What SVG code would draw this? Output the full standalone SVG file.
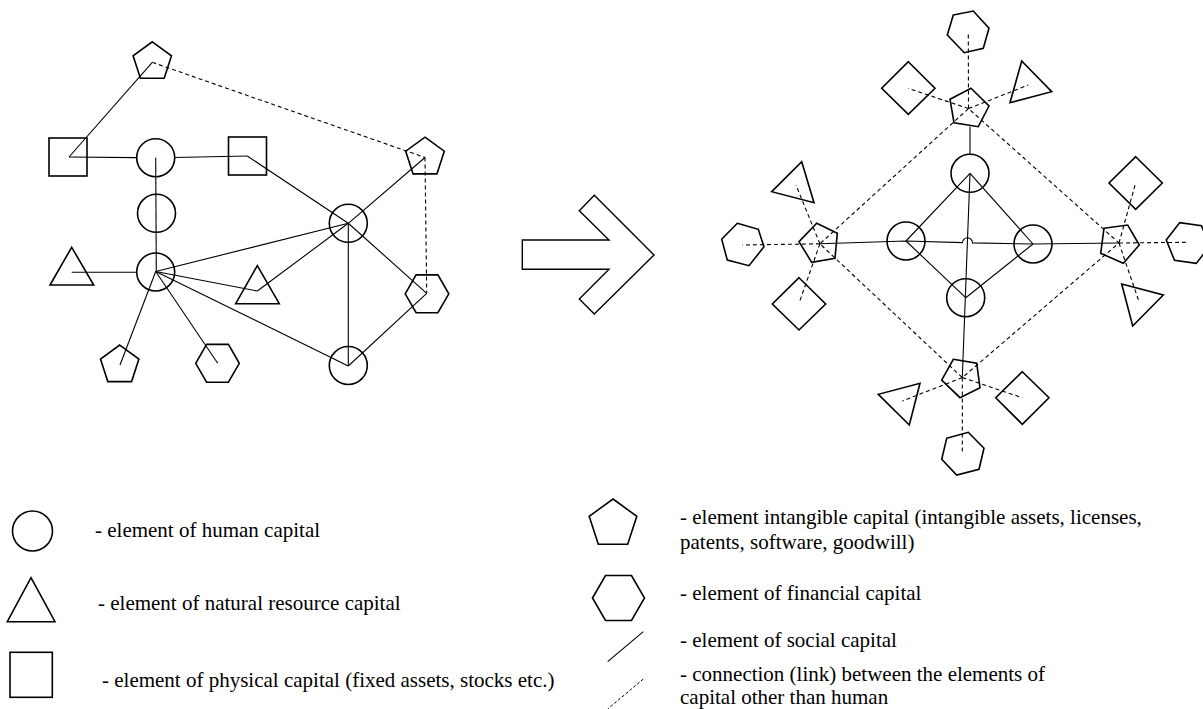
<svg xmlns="http://www.w3.org/2000/svg" width="1203" height="709" viewBox="0 0 1203 709">
<style>
.s{fill:none;stroke:#000;stroke-width:1.6;stroke-linejoin:miter}
.c{fill:none;stroke:#000;stroke-width:1.1}
.d{fill:none;stroke:#000;stroke-width:1.1;stroke-dasharray:4 3}
.dl{fill:none;stroke:#000;stroke-width:1;stroke-dasharray:3 2}
.t{font-family:"Liberation Serif","Times New Roman",serif;font-size:21px;fill:#000}
</style>
<rect width="1203" height="709" fill="#fff"/>

<!-- LEFT GRAPH connectors -->
<g id="left-connectors">
<line class="c" x1="152.3" y1="62.3" x2="69" y2="157"/>
<line class="c" x1="69" y1="157" x2="136.7" y2="157.6"/>
<line class="c" x1="174.7" y1="157.5" x2="247.3" y2="156"/>
<line class="c" x1="155.7" y1="157.7" x2="156.3" y2="271.5"/>
<line class="c" x1="71.7" y1="272.3" x2="136.7" y2="272.2"/>
<line class="c" x1="155.7" y1="271.5" x2="257.3" y2="291"/>
<line class="c" x1="155.7" y1="271.5" x2="348.3" y2="223.3"/>
<line class="c" x1="155.7" y1="271.5" x2="348.3" y2="366"/>
<line class="c" x1="155.7" y1="271.5" x2="120" y2="365"/>
<line class="c" x1="155.7" y1="271.5" x2="217.7" y2="363.3"/>
<polyline class="c" points="247.3,156 348.3,223.3 426.7,293.3"/>
<line class="c" x1="348.3" y1="223.3" x2="257.3" y2="291"/>
<line class="c" x1="348.3" y1="223.3" x2="425" y2="157.5"/>
<line class="c" x1="348.3" y1="223.3" x2="348.3" y2="366"/>
<line class="c" x1="348.3" y1="366" x2="426.7" y2="293.3"/>
<line class="d" x1="152.3" y1="62.3" x2="425" y2="157.5"/>
<line class="d" x1="425" y1="157.5" x2="426.7" y2="293.3"/>
</g>

<!-- LEFT GRAPH nodes -->
<g id="l-pent-top"><polygon class="s" points="152.3,41.8 171.5,55.8 164.2,78.3 140.4,78.3 133.1,55.8"/></g>
<g id="l-square-1"><rect class="s" x="49" y="138" width="38" height="38"/></g>
<g id="l-circle-1"><circle class="s" cx="155.7" cy="157.7" r="19"/></g>
<g id="l-square-2"><rect class="s" x="228.5" y="137" width="38" height="38"/></g>
<g id="l-circle-2"><circle class="s" cx="156.5" cy="213.3" r="19"/></g>
<g id="l-circle-3"><circle class="s" cx="155.7" cy="272" r="19"/></g>
<g id="l-tri-left"><polygon class="s" points="71.7,247.3 93.7,285 50,285"/></g>
<g id="l-tri-mid"><polygon class="s" points="257.3,265.7 279.3,303.7 235.7,303.7"/></g>
<g id="l-circle-big"><circle class="s" cx="348.3" cy="223.3" r="19"/></g>
<g id="l-pent-right"><polygon class="s" points="425,137.2 444.3,151.2 436.9,173.9 413.1,173.9 405.7,151.2"/></g>
<g id="l-hex-right"><polygon class="s" points="405.2,293.8 416.1,274.9 437.9,274.9 448.8,293.8 437.9,312.7 416.1,312.7"/></g>
<g id="l-circle-bottom"><circle class="s" cx="348.3" cy="365.5" r="19"/></g>
<g id="l-pent-bottom"><polygon class="s" points="119.7,345.1 138.9,359.1 131.6,381.6 107.8,381.6 100.5,359.1"/></g>
<g id="l-hex-bottom"><polygon class="s" points="195.7,363.3 206.6,344.4 228.4,344.4 239.3,363.3 228.4,382.2 206.6,382.2"/></g>

<!-- ARROW -->
<g id="arrow"><polygon class="s" style="stroke-width:1.4" points="522.3,240 609,240 579.3,210.7 594.3,195.3 654,255 594.3,314 579.3,299 609,269.3 522.3,269.3"/></g>

<!-- RIGHT GRAPH connectors -->
<g id="right-connectors">
<polygon class="d" points="968.5,108.6 819.9,243.8 962.3,377.6 1119,243"/>
<line class="d" x1="968.5" y1="108.6" x2="968.3" y2="32.3"/>
<line class="d" x1="968.5" y1="108.6" x2="908.3" y2="88.3"/>
<line class="d" x1="968.5" y1="108.6" x2="1028.3" y2="85"/>
<line class="d" x1="819.9" y1="243.8" x2="742.3" y2="245"/>
<line class="d" x1="819.9" y1="243.8" x2="796" y2="185"/>
<line class="d" x1="819.9" y1="243.8" x2="799" y2="303.3"/>
<line class="d" x1="1119" y1="243" x2="1187.3" y2="242.3"/>
<line class="d" x1="1119" y1="243" x2="1135.7" y2="182.7"/>
<line class="d" x1="1119" y1="243" x2="1139" y2="301.7"/>
<line class="d" x1="962.3" y1="377.6" x2="962.3" y2="452.7"/>
<line class="d" x1="962.3" y1="377.6" x2="902.3" y2="401"/>
<line class="d" x1="962.3" y1="377.6" x2="1022.3" y2="397.7"/>
<line class="c" x1="970" y1="126.7" x2="970" y2="154.3"/>
<line class="c" x1="970" y1="173.3" x2="962.3" y2="377.6"/>
<line class="c" x1="970" y1="173.3" x2="906" y2="241"/>
<line class="c" x1="970" y1="173.3" x2="1033" y2="244"/>
<line class="c" x1="906" y1="241" x2="965.7" y2="297.7"/>
<line class="c" x1="1033" y1="244" x2="965.7" y2="297.7"/>
<path class="c" d="M819.9,243.8 L906,241 L962.5,242.6 A5,5 0 0 1 972.5,242.9 L1033,244 L1119,243"/>
</g>

<!-- RIGHT GRAPH nodes -->
<g id="r-circle-top"><circle class="s" cx="970" cy="173.3" r="19"/></g>
<g id="r-circle-left"><circle class="s" cx="906" cy="241" r="19"/></g>
<g id="r-circle-right"><circle class="s" cx="1033" cy="244" r="19"/></g>
<g id="r-circle-bottom"><circle class="s" cx="965.7" cy="297.7" r="19"/></g>

<g id="r-pent-top"><polygon class="s" points="971,88.3 989,106 978.3,126.7 954,122.7 950,99.3"/></g>
<g id="r-pent-left"><polygon class="s" points="816.7,223.3 837.3,233.3 835,258.3 811.7,262.3 799,241.7"/></g>
<g id="r-pent-right"><polygon class="s" points="1104,228.3 1127.7,225 1139.3,245 1123.3,263.3 1100.7,253.3"/></g>
<g id="r-pent-bottom"><polygon class="s" points="953.3,359.3 976.7,363.3 980,387.7 960,397.7 941.7,380"/></g>

<g id="r-hex-top"><polygon class="s" points="953.3,15 973.3,11 989,28.3 983.3,48.3 964.3,52.7 947.3,35"/></g>
<g id="r-hex-left"><polygon class="s" points="737.3,223.3 758.3,229.3 764,246.7 749,265.7 727.3,260 721.7,239.3"/></g>
<g id="r-hex-right"><polygon class="s" points="1166.2,239.9 1179.8,222.6 1201.5,225.7 1209.8,246.1 1196.2,263.4 1174.5,260.3"/></g>
<g id="r-hex-bottom"><polygon class="s" points="946.7,438.3 968.3,432.3 984,448.3 979,469.3 956.7,475 941.7,459.3"/></g>

<g id="r-sq-topleft"><polygon class="s" points="908.3,61.7 935,88.3 908.3,114.3 881.7,88.3"/></g>
<g id="r-sq-right"><polygon class="s" points="1135.7,156.7 1162.3,183 1135.7,209.3 1109,183"/></g>
<g id="r-sq-left"><polygon class="s" points="799,277.7 825.7,304 799,330 772.3,304"/></g>
<g id="r-sq-bottom"><polygon class="s" points="1022.3,371.7 1049,397.7 1022.3,424.3 995.7,397.7"/></g>

<g id="r-tri-top"><polygon class="s" points="1021.7,61 1051.7,91.7 1010,102.7"/></g>
<g id="r-tri-left"><polygon class="s" points="801.7,161.7 814,202.7 771.7,191.7"/></g>
<g id="r-tri-right"><polygon class="s" points="1121.7,284 1163.3,295 1132.7,326"/></g>
<g id="r-tri-bottom"><polygon class="s" points="920,383.3 909.3,425 878.3,394.3"/></g>

<!-- LEGEND -->
<g id="legend-human"><circle class="s" cx="32.5" cy="531" r="20"/><text class="t" x="95" y="537">- element of human capital</text></g>
<g id="legend-natural"><polygon class="s" points="31,577.7 55,621.7 7.3,621.7"/><text class="t" x="98" y="610">- element of natural resource capital</text></g>
<g id="legend-physical"><rect class="s" x="10" y="652.3" width="42.3" height="45"/><text class="t" x="102" y="687">- element of physical capital (fixed assets, stocks etc.)</text></g>
<g id="legend-intangible"><polygon class="s" points="613,499 636.8,516.3 627.7,544.2 598.3,544.2 589.2,516.3"/><text class="t" x="680" y="524">- element intangible capital (intangible assets, licenses,</text><text class="t" x="680" y="549">patents, software, goodwill)</text></g>
<g id="legend-financial"><polygon class="s" points="592.5,598 605.5,575.5 631.5,575.5 644.5,598 631.5,620.5 605.5,620.5"/><text class="t" x="680" y="600">- element of financial capital</text></g>
<g id="legend-social"><line class="c" x1="643.3" y1="631.7" x2="607.7" y2="661.7"/><text class="t" x="680" y="647">- element of social capital</text></g>
<g id="legend-link"><line class="dl" x1="643.3" y1="679" x2="607.7" y2="709"/><text class="t" x="680" y="681">- connection (link) between the elements of</text><text class="t" x="680" y="704">capital other than human</text></g>
</svg>
